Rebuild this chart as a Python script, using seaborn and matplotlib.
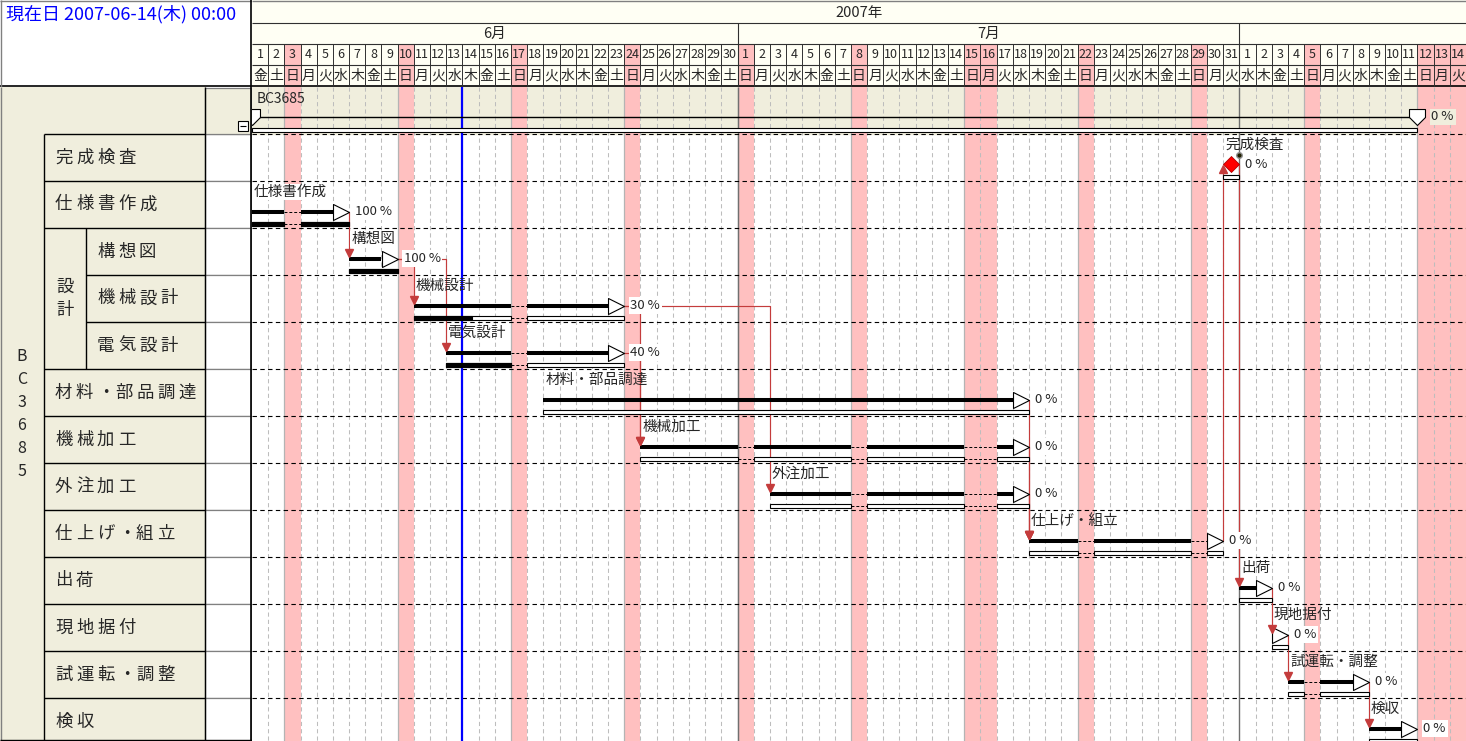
import numpy as np
import pandas as pd
import matplotlib
matplotlib.use("Agg")
import matplotlib.pyplot as plt
import seaborn as sns
from matplotlib.patches import Rectangle
from matplotlib.path import Path
from itertools import groupby

sns.set_theme(style="white")
plt.rcParams['font.family'] = ['Noto Sans CJK JP', 'DejaVu Sans']

# ---------------- data ----------------
project_name = "BC3685"
current_label = "現在日 2007-06-14(木) 00:00"
today = "2007-06-14"
timeline_start = "2007-06-01"
timeline_end = "2007-08-14"
year_label = "2007年"
month_names = ["6月", "7月", "8月"]
month_firsts = ["2007-06-01", "2007-07-01", "2007-08-01"]
month_lasts = ["2007-06-30", "2007-07-31", "2007-08-31"]
weekday_names = ["月", "火", "水", "木", "金", "土", "日"]
holidays = ["2007-06-03", "2007-06-10", "2007-06-17", "2007-06-24",
            "2007-07-01", "2007-07-08", "2007-07-15", "2007-07-16",
            "2007-07-22", "2007-07-29", "2007-08-05", "2007-08-12",
            "2007-08-13", "2007-08-14"]

tasks = ["完成検査", "仕様書作成", "構想図", "機械設計", "電気設計",
         "材料・部品調達", "機械加工", "外注加工", "仕上げ・組立",
         "出荷", "現地据付", "試運転・調整", "検収"]
groups = ["", "", "設計", "設計", "設計", "", "", "", "", "", "", "", ""]
starts = ["2007-07-31", "2007-06-01", "2007-06-07", "2007-06-11", "2007-06-13",
          "2007-06-19", "2007-06-25", "2007-07-03", "2007-07-19",
          "2007-08-01", "2007-08-03", "2007-08-04", "2007-08-09"]
ends = ["2007-07-31", "2007-06-06", "2007-06-09", "2007-06-23", "2007-06-23",
        "2007-07-18", "2007-07-18", "2007-07-18", "2007-07-30",
        "2007-08-02", "2007-08-03", "2007-08-08", "2007-08-11"]
progress = [0, 100, 100, 30, 40, 0, 0, 0, 0, 0, 0, 0, 0]
skip_holidays = [True, True, True, True, True, False, True, True, True,
                 True, True, True, True]
is_milestone = [True] + [False] * 12
dependencies = [("仕様書作成", "構想図"), ("構想図", "機械設計"), ("構想図", "電気設計"),
                ("機械設計", "機械加工"), ("電気設計", "機械加工"), ("機械設計", "外注加工"),
                ("材料・部品調達", "仕上げ・組立"), ("機械加工", "仕上げ・組立"),
                ("外注加工", "仕上げ・組立"), ("仕上げ・組立", "完成検査"),
                ("完成検査", "出荷"), ("出荷", "現地据付"), ("現地据付", "試運転・調整"),
                ("試運転・調整", "検収")]
summary_start = "2007-06-01"
summary_end = "2007-08-11"
summary_progress = 0

# ---------------- layout / style ----------------
W, H = 1466, 741
LEFT_W = 252
HEAD_H = 87
ROW = 47.0
BODY_H = H - HEAD_H
YMAX = BODY_H / ROW
PINK = '#FFC0C0'
BEIGE = '#F0EEDD'
IVORY = '#FFFFF4'
RED = '#C43C3C'
GRID = '#BDBDBD'

t0 = pd.Timestamp(timeline_start)


def di(s):
    return (pd.Timestamp(s) - t0).days


DAYS = di(timeline_end) + 1
DAYW = (W - LEFT_W) / DAYS  # px per day
hol_idx = sorted(di(h) for h in holidays)
hol_set = set(hol_idx)


def px_x(p):
    return p / DAYW


def px_y(p):
    return p / ROW


def closed(verts):
    v = list(verts) + [verts[0]]
    codes = [Path.MOVETO] + [Path.LINETO] * (len(verts) - 1) + [Path.CLOSEPOLY]
    return Path(v, codes)


fig = plt.figure(figsize=(W / 100, H / 100), dpi=100)
fig.patch.set_facecolor('white')


def add_ax(x, y, w, h):
    a = fig.add_axes([x / W, 1 - (y + h) / H, w / W, h / H])
    a.set_axis_off()
    return a


def runs(s, e, skip):
    if not skip:
        return [(s, e + 1)], []
    segs, gaps = [], []
    for hflag, grp in groupby(range(s, e + 1), key=lambda x: x in hol_set):
        g = list(grp)
        (gaps if hflag else segs).append((g[0], g[-1] + 1))
    return segs, gaps


# ================= main chart =================
ax = add_ax(LEFT_W, HEAD_H, W - LEFT_W, BODY_H)
ax.set_xlim(0, DAYS)
ax.set_ylim(YMAX, 0)
ax.add_patch(Rectangle((0, 0), DAYS, YMAX, color='white', zorder=0))
ax.add_patch(Rectangle((0, 0), DAYS, 1, color=BEIGE, zorder=0.5))
for d in hol_idx:
    ax.axvspan(d, d + 1, color=PINK, lw=0, zorder=1)

hol_left = [d for d in hol_idx if d - 1 not in hol_set]
month_b = [di(m) for m in month_firsts if 0 < di(m) < DAYS]
normal = [d for d in range(1, DAYS) if d not in hol_left and d not in month_b]
ax.vlines(normal, 0, YMAX, colors=GRID, lw=0.75, linestyles=(0, (4, 3)), zorder=2)
ax.vlines(hol_left, 0, YMAX, colors='#B4B4B4', lw=0.9, zorder=2)
ax.vlines(month_b, 0, YMAX, colors='#707070', lw=1.0, zorder=2.5)
ax.hlines(range(1, len(tasks) + 1), 0, DAYS, colors='black', lw=0.8,
          linestyles=(0, (4, 3)), zorder=2.6)
ax.vlines(di(today), 0, YMAX, colors='#0000FF', lw=1.6, zorder=3)

TRI = closed([(-1, -1), (1, 0), (-1, 1)])
DIAM = closed([(0, 1), (1, 0), (0, -1), (-1, 0)])
PENT = closed([(-1, 1), (1, 1), (1, 0), (0, -1), (-1, 0)])

# summary row
ss, se = di(summary_start), di(summary_end) + 1
sy = px_y(30)
ax.hlines(sy, ss, se, colors='black', lw=1.0, zorder=5)
ax.barh(px_y(42.5), se - ss, left=ss, height=px_y(4), color='white',
        edgecolor='black', linewidth=0.8, zorder=5)
ax.plot([ss, se], [sy, sy], ls='none', marker=PENT, ms=11.5, mfc='white',
        mec='black', mew=0.8, zorder=6)
ax.text(ss + px_x(5), px_y(12), project_name, fontsize=10, va='center',
        ha='left', zorder=7)
ax.text(se + px_x(14), sy, f"{summary_progress} %", fontsize=9.5, va='center',
        ha='left', zorder=7,
        bbox=dict(facecolor=BEIGE, edgecolor='none', pad=1.2))

bar_y = {}
for i, name in enumerate(tasks):
    r = i + 1
    s, e = di(starts[i]), di(ends[i])
    by = r + px_y(30.5)
    bar_y[name] = by
    ly = r + px_y(11)
    lowy = r + px_y(43)
    segs, gaps = runs(s, e, skip_holidays[i])
    total = sum(b - a for a, b in segs)
    done = total * progress[i] / 100.0
    # lower (plan / progress) bar
    acc = 0.0
    for a, b in segs:
        ax.barh(lowy, b - a, left=a, height=px_y(4), color='white',
                edgecolor='black', linewidth=0.8, zorder=5)
        fill = min(b - a, max(0.0, done - acc))
        if fill > 0:
            ax.barh(lowy, fill, left=a, height=px_y(4), color='black',
                    edgecolor='black', linewidth=0.8, zorder=5.1)
        acc += b - a
    for a, b in gaps:
        ax.hlines(lowy, a, b, colors='black', lw=0.7, linestyles=(0, (3, 2)), zorder=5)
    if is_milestone[i]:
        ax.plot(s + 0.5, by - px_y(1), marker=DIAM, ms=11.5, mfc='#FF0000',
                mec='#B00000', mew=0.6, zorder=6)
        ax.plot(e + 1, r + px_y(21), marker='o', ms=4, mfc='#202000',
                mec='#909090', mew=1.0, zorder=6)
    else:
        for a, b in segs:
            b2 = min(b, e)
            if b2 > a:
                ax.hlines(by, a, b2, colors='black', lw=2.9, capstyle='butt', zorder=5)
        for a, b in gaps:
            ax.hlines(by, a, b, colors='black', lw=0.7, linestyles=(0, (3, 2)), zorder=5)
        ax.plot(e + 0.5, by, marker=TRI, ms=11.5, mfc='white', mec='black',
                mew=0.8, zorder=6)
    lbl_bbox = dict(facecolor='white', edgecolor='none', pad=0.5) if progress[i] == 100 else None
    ax.text(s + px_x(2), ly, name, fontsize=10.5, va='center', ha='left',
            zorder=7, bbox=lbl_bbox)
    ax.text(e + 1 + px_x(6), by, f"{progress[i]} %", fontsize=9.5, va='center',
            ha='left', zorder=7,
            bbox=dict(facecolor='white', edgecolor='none', pad=1.2))

# dependency arrows
for a_name, b_name in dependencies:
    ia, ib = tasks.index(a_name), tasks.index(b_name)
    x0 = di(ends[ia]) + 1
    y0 = bar_y[a_name]
    x1 = di(starts[ib])
    y1 = bar_y[b_name]
    if ib > ia:
        hy = y1 - px_y(5.5)
        mk = 'v'
    else:
        hy = y1 + px_y(4.5)
        mk = '^'
    ax.plot([x0, x1, x1], [y0, y0, hy], color=RED, lw=0.85, zorder=4.5,
            solid_joinstyle='round')
    ax.plot(x1, hy, marker=mk, ms=5.5, color=RED, mec=RED, zorder=6.5)

# ================= timeline header =================
axh = add_ax(LEFT_W, 0, W - LEFT_W, HEAD_H)
axh.set_xlim(0, DAYS)
axh.set_ylim(HEAD_H, 0)
axh.add_patch(Rectangle((0, 0), DAYS, HEAD_H, color=IVORY, zorder=0))
for d in hol_idx:
    axh.add_patch(Rectangle((d, 44), 1, 43, color=PINK, lw=0, zorder=1))
axh.hlines([1.0], 0, DAYS, colors='#808080', lw=1.0, zorder=3)
axh.hlines([23, 44, 65], 0, DAYS, colors='#303030', lw=0.8, zorder=3)
axh.hlines([86.3], 0, DAYS, colors='black', lw=1.2, zorder=3)
axh.vlines([d for d in range(1, DAYS) if d not in month_b], 44, 87,
           colors='#303030', lw=0.7, zorder=3)
axh.vlines(month_b, 23, 87, colors='#303030', lw=0.8, zorder=3)
axh.text(DAYS / 2, 12.5, year_label, fontsize=10.5, ha='center', va='center')
for mn, mf, ml in zip(month_names, month_firsts, month_lasts):
    cx = (di(mf) + di(ml) + 1) / 2
    if cx < DAYS - 1:   # label sits at the centre of the full month; hidden if off-screen
        axh.text(cx, 33.5, mn, fontsize=10.5, ha='center', va='center', clip_on=True)
for d in range(DAYS):
    date = t0 + pd.Timedelta(days=d)
    axh.text(d + 0.5, 55, str(date.day), fontsize=9, ha='center',
             va='center', zorder=4)
    axh.text(d + 0.5, 76, weekday_names[date.weekday()], fontsize=10,
             ha='center', va='center', zorder=4)

# ================= current date box =================
axc = add_ax(0, 0, LEFT_W, HEAD_H)
axc.set_xlim(0, LEFT_W)
axc.set_ylim(HEAD_H, 0)
axc.add_patch(Rectangle((0, 0), LEFT_W, HEAD_H, color='white', zorder=0))
axc.hlines([1.0], 0, LEFT_W, colors='#808080', lw=1.0)
axc.hlines([86.3], 0, LEFT_W, colors='black', lw=1.2)
axc.vlines([0.5], 0, HEAD_H, colors='#808080', lw=1.0)
axc.vlines([251.3], 0, HEAD_H, colors='black', lw=1.2)
axc.text(6, 14, current_label, fontsize=13, color='#0000FF', ha='left', va='center')

# ================= task table =================
axt = add_ax(0, HEAD_H, LEFT_W, BODY_H)
axt.set_xlim(0, LEFT_W)
axt.set_ylim(YMAX, 0)
axt.add_patch(Rectangle((0, 0), 205, YMAX, color=BEIGE, zorder=0))
for r in range(1, len(tasks) + 1):
    axt.add_patch(Rectangle((205, r), 45.5, 1, facecolor='white',
                            edgecolor='#808080', lw=0.9, zorder=1))
axt.add_patch(Rectangle((205, 0.02), 45.5, 0.98, facecolor=BEIGE,
                        edgecolor='#808080', lw=0.9, zorder=1))
# collapse box
axt.add_patch(Rectangle((238, px_y(34)), 10, px_y(10), facecolor='white',
                        edgecolor='black', lw=0.8, zorder=2))
axt.hlines(px_y(39), 240, 246, colors='black', lw=0.8, zorder=3)

axt.vlines([44], 1, YMAX, colors='black', lw=1.0, zorder=3)
axt.vlines([205], 0, YMAX, colors='black', lw=1.0, zorder=3)
axt.vlines([251.3], 0, YMAX, colors='black', lw=1.2, zorder=3)
axt.vlines([0.5], 0, YMAX, colors='#808080', lw=1.0, zorder=3)
axt.hlines([YMAX - 0.02], 0, 252, colors='black', lw=1.0, zorder=3)
for r in range(1, len(tasks) + 1):
    g_prev = groups[r - 2] if r >= 2 else None
    g_cur = groups[r - 1]
    x_from = 86 if (g_cur and g_prev == g_cur) else 44
    axt.hlines(r, x_from, 205, colors='black', lw=1.0, zorder=3)

# group label column
for gname in sorted(set(g for g in groups if g)):
    idxs = [k for k, g in enumerate(groups) if g == gname]
    r0, r1 = idxs[0] + 1, idxs[-1] + 2
    axt.vlines([86], r0, r1, colors='black', lw=1.0, zorder=3)
    cy = (r0 + r1) / 2
    n = len(gname)
    for k, ch in enumerate(gname):
        axt.text(65, cy + px_y(24) * (k - (n - 1) / 2), ch, fontsize=12.5,
                 ha='center', va='center', zorder=4)

# project vertical label
pc = YMAX / 2
n = len(project_name)
for k, ch in enumerate(project_name):
    axt.text(22, pc + px_y(23) * (k - (n - 1) / 2), ch, fontsize=11.5,
             ha='center', va='center', zorder=4)

# task names with wide letter spacing (the middle dot takes less room)
for i, name in enumerate(tasks):
    r = i + 1
    xc = 97 if groups[i] else 55
    for ch in name:
        axt.text(xc, r + 0.5, ch, fontsize=12.5, ha='left',
                 va='center', zorder=4)
        xc += 18 if ch == "・" else 21

fig.savefig("out.png", dpi=100, facecolor='white')
